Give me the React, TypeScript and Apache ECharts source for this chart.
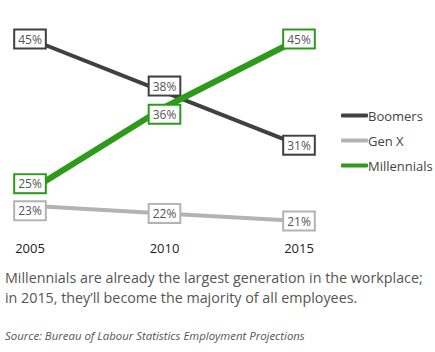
import React, { useEffect, useRef } from "react";
import * as echarts from "echarts";

const years = ["2005", "2010", "2015"];
const boomers = [45, 38, 31];
const genX = [23, 22, 21];
const millennials = [25, 36, 45];
const seriesNames = ["Boomers", "Gen X", "Millennials"];
const seriesColors = ["#404040", "#b3b3b3", "#2e9a1c"];
const captionLines = [
  "Millennials are already the largest generation in the workplace;",
  "in 2015, they\u2019ll become the majority of all employees.",
];
const sourceText = "Source: Bureau of Labour Statistics Employment Projections";

const FONT = "'Open Sans', 'Noto Sans', sans-serif";

// label nudges (pixels) so crowded boxes do not collide
const labelOffsets = [
  [[0, 0], [0, -6], [0, 0]],
  [[0, 5], [0, 0], [0, 0]],
  [[0, -7], [0, 7], [0, 0]],
];

export default function App() {
  const ref = useRef<HTMLDivElement>(null);
  useEffect(() => {
    if (!ref.current) return;
    const chart = echarts.init(ref.current, undefined, { renderer: "svg" });
    const data = [boomers, genX, millennials];
    const widths = [4, 4, 6];
    chart.setOption({
      animation: false,
      backgroundColor: "#ffffff",
      grid: { left: 30, top: 39, width: 269, height: 182, containLabel: false },
      xAxis: {
        type: "category",
        data: years,
        boundaryGap: false,
        axisLine: { show: false },
        axisTick: { show: false },
        splitLine: { show: false },
        axisLabel: { color: "#222", fontSize: 13, fontFamily: FONT, margin: 20 },
      },
      yAxis: {
        type: "value",
        min: 21,
        max: 45,
        show: false,
        splitLine: { show: false },
      },
      legend: {
        orient: "vertical",
        left: 336,
        top: 104,
        itemWidth: 27,
        itemHeight: 4,
        itemGap: 12,
        icon: "roundRect",
        textStyle: { color: "#444", fontSize: 13, fontFamily: FONT, padding: [0, 0, 0, -5] },
        data: seriesNames,
      },
      series: seriesNames.map((name, i) => ({
        name,
        type: "line",
        data: data[i].map((v, j) => ({
          value: v,
          label: { offset: labelOffsets[i][j] },
        })),
        color: seriesColors[i],
        symbol: "circle",
        symbolSize: 1,
        showSymbol: true,
        z: i === 2 ? 3 : i === 0 ? 2 : 1,
        lineStyle: { width: widths[i], color: seriesColors[i] },
        itemStyle: { color: seriesColors[i] },
        label: {
          show: true,
          position: "inside",
          formatter: (p: any) => p.value + "%",
          color: "#555",
          fontSize: 12,
          fontFamily: FONT,
          backgroundColor: "#fff",
          borderColor: seriesColors[i],
          borderWidth: 2,
          padding: [3, 3, 2, 3],
        },
        emphasis: { disabled: true },
      })),
      graphic: [
        ...captionLines.map((t, k) => ({
          type: "text",
          left: 5,
          top: 270 + k * 20,
          style: { text: t, fill: "#555", fontSize: 14.3, fontFamily: FONT },
        })),
        {
          type: "text",
          left: 5,
          top: 330,
          style: { text: sourceText, fill: "#555", fontSize: 11.4, fontStyle: "italic", fontFamily: FONT },
        },
      ],
    });
    return () => chart.dispose();
  }, []);
  return (
    <div
      ref={ref}
      style={{ position: "absolute", left: 0, top: 0, width: 435, height: 352 }}
    />
  );
}
